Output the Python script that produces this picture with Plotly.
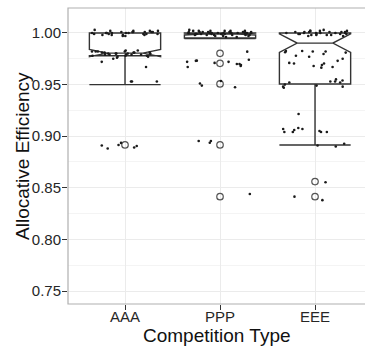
import numpy as np
import plotly.graph_objects as go

# ---- data -------------------------------------------------------------
categories = ["AAA", "PPP", "EEE"]

# box summary statistics per competition type
lower_whisker = [0.950, 0.9945, 0.8915]
q1_values = [0.978, 0.9952, 0.9505]
median_values = [0.9805, 0.9990, 0.9902]
q3_values = [1.000, 1.000, 1.000]
upper_whisker = [1.000, 1.000, 1.000]
notch_spans = [0.0035, 0.0009, 0.0090]

# outliers flagged by the box statistics
outliers_aaa = [0.8915]
outliers_ppp = [0.9803, 0.9706, 0.9506, 0.8915, 0.8414]
outliers_eee = [0.8560, 0.8414]

# individual session efficiencies
obs_aaa = [
    1.002, 1.001, 0.999, 1.000, 0.998, 1.002, 1.000, 0.999, 1.001, 0.998,
    1.000, 1.002, 0.999, 1.001, 0.997, 1.000, 1.002, 0.998, 1.001, 0.999,
    1.000, 0.998, 1.001, 1.003, 0.999, 1.000, 0.997, 1.001,
    0.981, 0.979, 0.982, 0.980, 0.978, 0.981, 0.983, 0.979, 0.980, 0.982,
    0.978, 0.981, 0.979, 0.980, 0.983, 0.977, 0.981, 0.979, 0.982, 0.980,
    0.978, 0.981, 0.980, 0.979, 0.982, 0.977,
    0.975, 0.972, 0.967, 0.976,
    0.953, 0.953, 0.953,
    0.889, 0.8905, 0.891, 0.8935, 0.888, 0.8915,
]
obs_ppp = [
    1.002, 1.001, 0.999, 1.000, 0.998, 1.002, 1.000, 0.999, 1.001, 0.998,
    1.000, 1.002, 0.999, 1.001, 0.997, 1.000, 1.002, 0.998, 1.001, 0.999,
    1.000, 0.998, 1.001, 1.003, 0.999, 1.000, 0.997, 1.001, 0.996, 1.000,
    0.999, 1.001, 0.998, 1.000, 1.002, 0.997, 0.999, 1.001, 1.000, 0.996,
    0.998, 1.002, 0.999, 1.000,
    0.9819, 0.9732,
    0.974, 0.972, 0.970, 0.968, 0.973, 0.971, 0.969, 0.967, 0.972, 0.970,
    0.9535, 0.9474, 0.949, 0.951,
    0.8953, 0.8953, 0.8937,
    0.844,
]
obs_eee = [
    1.002, 1.001, 0.999, 1.000, 0.998, 1.002, 1.000, 0.999, 1.001, 0.998,
    1.000, 1.002, 0.999, 1.001, 0.997, 1.000, 1.002, 0.998, 1.001, 0.999,
    1.000, 0.998, 1.001, 1.003, 0.999, 1.000, 0.997, 1.001,
    0.9813, 0.978, 0.975, 0.973, 0.971, 0.969, 0.968, 0.9664,
    0.982, 0.9825, 0.981, 0.982, 0.9797, 0.9704, 0.9704, 0.9826, 0.977, 0.967,
    0.955, 0.953, 0.952, 0.954, 0.953, 0.952,
    0.949, 0.948, 0.950, 0.947, 0.948,
    0.9215, 0.908, 0.906, 0.905,
    0.904, 0.904, 0.904, 0.904, 0.907, 0.907,
    0.8927, 0.891, 0.890,
    0.8553, 0.838, 0.8414,
]

# ---- styling ----------------------------------------------------------
FONT = "Liberation Sans, Arial, sans-serif"
BOX_LINE = "#333333"
GRID = "#ebebeb"
BOX_WIDTH = 0.75             # in category units
JITTER_WIDTH = 0.35          # horizontal jitter, in category units

positions = list(range(1, len(categories) + 1))
rng = np.random.default_rng(7)

fig = go.Figure()

# notched boxes from the summary statistics
fig.add_trace(go.Box(
    x=positions,
    q1=q1_values,
    median=median_values,
    q3=q3_values,
    lowerfence=lower_whisker,
    upperfence=upper_whisker,
    notchspan=notch_spans,
    notched=True,
    notchwidth=0.25,
    whiskerwidth=1,
    width=BOX_WIDTH,
    boxpoints=False,
    fillcolor="white",
    line=dict(color=BOX_LINE, width=1.4),
    showlegend=False,
))

# jittered raw observations, like geom_jitter
obs_groups = [obs_aaa, obs_ppp, obs_eee]
obs_x, obs_y = [], []
for pos, vals in zip(positions, obs_groups):
    offsets = rng.uniform(-JITTER_WIDTH, JITTER_WIDTH, len(vals))
    obs_x.extend(pos + offsets)
    obs_y.extend(vals)

# outlier markers
out_groups = [outliers_aaa, outliers_ppp, outliers_eee]
out_x, out_y = [], []
for pos, vals in zip(positions, out_groups):
    out_x.extend([pos] * len(vals))
    out_y.extend(vals)

fig.add_trace(go.Scatter(
    x=out_x,
    y=out_y,
    mode="markers",
    marker=dict(symbol="circle-open", size=6.5, color="#555555",
                line=dict(width=1.2, color="#555555")),
    showlegend=False,
    hoverinfo="y",
))

fig.add_trace(go.Scatter(
    x=obs_x,
    y=obs_y,
    mode="markers",
    marker=dict(color="#1a1a1a", size=2.6),
    showlegend=False,
    hoverinfo="y",
))

# panel border (right side runs past the visible area)
fig.add_shape(type="rect", xref="paper", yref="paper",
              x0=0, x1=1.06, y0=0, y1=1,
              line=dict(color="#b0b0b0", width=1.2), layer="above")

# axis titles
fig.add_annotation(text="Competition Type", xref="paper", yref="paper",
                   x=0.5, y=-0.108, xanchor="center", yanchor="middle",
                   showarrow=False,
                   font=dict(family=FONT, size=19, color="#111111"))
fig.add_annotation(text="Allocative Efficiency", xref="paper", yref="paper",
                   x=-0.155, y=0.5, xanchor="center", yanchor="middle",
                   textangle=-90, showarrow=False,
                   font=dict(family=FONT, size=19, color="#111111"))

fig.update_layout(
    width=365,
    height=347,
    margin=dict(l=68, r=0, t=8, b=43),
    paper_bgcolor="white",
    plot_bgcolor="white",
    font=dict(family=FONT, color="#262626"),
    xaxis=dict(
        range=[0.4, 3.526],
        tickvals=positions,
        ticktext=categories,
        showgrid=True,
        gridcolor=GRID,
        gridwidth=1,
        zeroline=False,
        showline=False,
        ticks="outside",
        ticklen=5,
        tickwidth=1,
        tickcolor="#333333",
        ticklabelstandoff=-6,
        tickfont=dict(size=15, color="#262626"),
    ),
    yaxis=dict(
        range=[0.7374, 1.0242],
        tickvals=[0.75, 0.80, 0.85, 0.90, 0.95, 1.00],
        tickformat=".2f",
        showgrid=True,
        gridcolor=GRID,
        gridwidth=1,
        minor=dict(tickvals=[0.775, 0.825, 0.875, 0.925, 0.975],
                   showgrid=True, gridcolor="#f4f4f4", gridwidth=0.6,
                   ticks=""),
        zeroline=False,
        showline=False,
        ticks="outside",
        ticklen=5,
        tickwidth=1,
        tickcolor="#333333",
        ticklabelstandoff=-2,
        tickfont=dict(size=15, color="#262626"),
    ),
)

fig.write_html("out.html")
